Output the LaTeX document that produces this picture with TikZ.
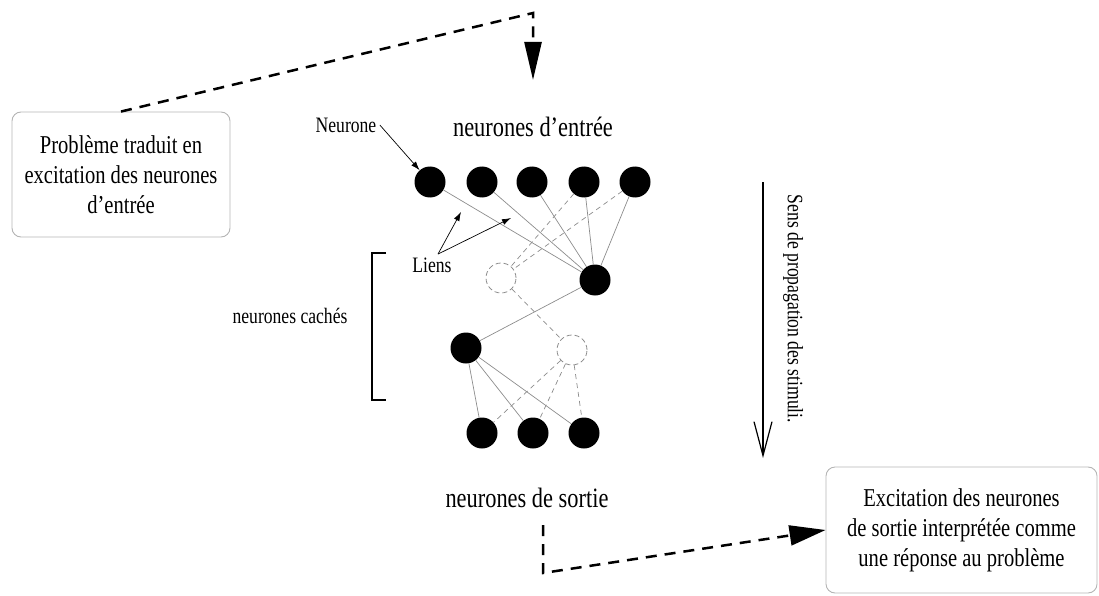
\documentclass[tikz,border=0pt]{standalone}
\usepackage{fontspec}
\setmainfont{Liberation Serif}[FakeStretch=0.8]
\usepackage{tikz}
\usetikzlibrary{arrows.meta,positioning,calc}
\definecolor{LinkGray}{HTML}{8C8C8C}
\definecolor{BoxEdge}{HTML}{B4B4B4}

\begin{document}
\begin{tikzpicture}[
  x=1pt, y=-1pt,
  neuron/.style={circle,fill=black,minimum size=31pt,inner sep=0pt},
  ghost/.style={circle,draw=LinkGray,dash pattern=on 5pt off 3pt,minimum size=30pt,inner sep=0pt,line width=0.8pt},
  link/.style={draw=LinkGray,line width=0.7pt},
  ghostlink/.style={link,dash pattern=on 5pt off 4pt},
  note/.style={rounded corners=9pt,draw=BoxEdge,line width=0.9pt,align=center,inner sep=0pt,font=\fontsize{25.7}{30}\selectfont},
  titletext/.style={font=\fontsize{28}{32}\selectfont},
  smalltext/.style={font=\fontsize{22}{26}\selectfont},
  pointer/.style={-{Latex[length=9pt,width=6pt]},line width=0.7pt},
  bigdash/.style={line width=2.5pt,dash pattern=on 11pt off 8pt}
]
  \useasboundingbox (0,0) rectangle (1099,596);

  % boites de texte
  \node[note,minimum width=218pt,minimum height=125pt] (probleme) at (121,174.5)
    {Problème traduit en\\excitation des neurones\\d'entrée};
  \node[note,minimum width=271pt,minimum height=126pt] (reponse) at (961.5,530)
    {Excitation des neurones\\de sortie interprétée comme\\une réponse au problème};

  % neurones
  \foreach \x [count=\i] in {430,482,532,584,635}
    \node[neuron] (in\i) at (\x,182) {};
  \node[neuron] (hr) at (595,280) {};
  \node[ghost] (hg1) at (501,278) {};
  \node[neuron] (hl) at (466,348) {};
  \node[ghost] (hg2) at (572,350) {};
  \foreach \x [count=\i] in {482,533,584}
    \node[neuron] (out\i) at (\x,433) {};

  % liens
  \foreach \i in {1,...,5}
    \draw[link] (in\i) -- (hr);
  \draw[ghostlink] (in4) -- (hg1);
  \draw[ghostlink] (in5) -- (hg1);
  \draw[link] (hr) -- (hl);
  \draw[ghostlink] (hg1) -- (hg2);
  \foreach \i in {1,2,3} {
    \draw[link] (hl) -- (out\i);
    \draw[ghostlink] (hg2) -- (out\i);
  }

  % etiquettes
  \node[titletext] (entree) at (533,127) {neurones d'entrée};
  \node[titletext] (sortie) at (527,498) {neurones de sortie};
  \node[smalltext] (neurone) at (346,125) {Neurone};
  \node[smalltext] (liens) at (432,265) {Liens};
  \node[smalltext] (caches) at (290,316) {neurones cachés};
  \node[smalltext,rotate=-90] (sens) at (793,309) {Sens de propagation des stimuli.};

  \coordinate (lien1) at (461,212);
  \coordinate (lien2) at (511,218);
  \draw[pointer] (neurone.east) -- (in1);
  \draw[pointer] ([xshift=6pt]liens.north) -- (lien1);
  \draw[pointer] ([xshift=6pt]liens.north) -- (lien2);

  % accolade des neurones caches
  \draw[line width=1.4pt] (386,253) -- (372,253) -- (372,400) -- (386,400);

  % sens de propagation
  \coordinate (flowtop) at (763,182);
  \coordinate (flowend) at (763,458);
  \draw[-{Straight Barb[length=34pt,width=18pt]},line width=1.2pt] (flowtop) -- (flowend);

  % entree et sortie du probleme
  \coordinate (topbend) at (533,13);
  \coordinate (inarrow) at (533,80);
  \draw[bigdash,-{Triangle[length=38pt,width=17pt]}] (probleme.north) -- (topbend) -- (inarrow);
  \coordinate (outstart) at (543,525);
  \coordinate (outbend) at (543,573);
  \draw[bigdash,-{Triangle[length=36pt,width=20pt]}] (outstart) -- (outbend) -- (reponse.west);
\end{tikzpicture}
\end{document}
